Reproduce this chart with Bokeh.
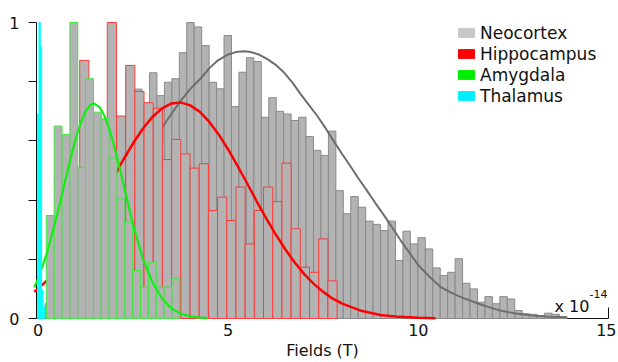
import numpy as np
from bokeh.plotting import figure
from bokeh.models import ColumnDataSource, Range1d, FixedTicker, Legend, LegendItem, Label, Title
from bokeh.embed import file_html
from bokeh.resources import INLINE

# ---------------- data (x in units of 1e-14 T) ----------------
region_names = ["Neocortex", "Hippocampus", "Amygdala", "Thalamus"]

neo_bin_start, neo_bin_width = 0.187, 0.196
neo_counts = [0.05, 0.12, 0.20, 0.26, 0.30, 0.35, 0.40, 0.45, 0.49, 0.52,
              0.58, 0.63, 0.775, 0.70, 0.830, 0.753, 0.798, 0.810, 0.898, 1.0,
              0.985, 0.922, 0.798, 0.776, 0.956, 0.716, 0.832, 0.881, 0.868, 0.680,
              0.746, 0.700, 0.691, 0.669, 0.680, 0.615, 0.568, 0.551, 0.633, 0.432,
              0.354, 0.412, 0.376, 0.329, 0.318, 0.297, 0.329, 0.196, 0.295, 0.252,
              0.273, 0.235, 0.171, 0.145, 0.156, 0.202, 0.119, 0.100, 0.055, 0.074,
              0.050, 0.074, 0.066, 0.027, 0.016, 0.014, 0.010, 0.018, 0.014, 0.007]

hip_bin_start, hip_bin_width = 0.6125, 0.2417
hip_counts = [0.35, 0.45, 0.872, 0.62, 0.55, 1.0, 0.684, 0.855, 0.767, 0.729,
              0.71, 0.537, 0.605, 0.556, 0.508, 0.523, 0.365, 0.41, 0.331, 0.444,
              0.252, 0.365, 0.444, 0.395, 0.525, 0.303, 0.173, 0.156, 0.269, 0.127]

amy_bin_start, amy_bin_width = 0.218, 0.2065
amy_counts = [0.348, 0.650, 0.622, 1.0, 0.511, 0.810, 0.697, 0.675, 0.542, 0.404,
              0.325, 0.162, 0.106, 0.190, 0.106, 0.106, 0.136]

tha_bin_start, tha_bin_width = -0.01, 0.035
tha_counts = [0.69, 1.0, 0.92, 0.095, 0.04]

neo_fit_x = [0.25, 0.75, 1.25, 1.75, 2.25, 2.75, 3.0, 3.27, 3.5, 3.75, 4.0, 4.27, 4.5,
             4.71, 5.0, 5.2, 5.41, 5.6, 5.8, 6.02, 6.25, 6.46, 6.7, 6.9, 7.1, 7.34,
             7.55, 7.77, 8.0, 8.21, 8.43, 8.65, 8.87, 9.09, 9.3, 9.53, 9.75, 10.0,
             10.3, 10.6, 10.9, 11.2, 11.5, 11.72, 11.94, 12.15, 12.38, 12.6, 13.0,
             13.45, 13.9]
neo_fit_y = [0.12, 0.19, 0.27, 0.36, 0.45, 0.54, 0.59, 0.646, 0.69, 0.735, 0.775, 0.81,
             0.845, 0.870, 0.892, 0.900, 0.903, 0.900, 0.892, 0.877, 0.857, 0.832,
             0.795, 0.759, 0.725, 0.685, 0.645, 0.600, 0.555, 0.515, 0.472, 0.432,
             0.39, 0.35, 0.31, 0.265, 0.225, 0.18, 0.14, 0.105, 0.085, 0.068, 0.054,
             0.044, 0.035, 0.027, 0.021, 0.016, 0.010, 0.006, 0.004]

hip_fit_x = [-0.1, 0.0, 0.25, 0.5, 0.75, 1.0, 1.25, 1.5, 1.75, 2.0, 2.25, 2.5, 2.75,
             3.0, 3.25, 3.5, 3.75, 4.0, 4.25, 4.5, 4.75, 5.0, 5.25, 5.5, 5.75, 6.0,
             6.25, 6.5, 6.75, 7.0, 7.25, 7.5, 7.75, 8.0, 8.5, 9.0, 9.5, 10.0, 10.45]
hip_fit_y = [0.090, 0.100, 0.130, 0.165, 0.206, 0.253, 0.305, 0.361, 0.420, 0.480,
             0.538, 0.592, 0.640, 0.680, 0.709, 0.726, 0.730, 0.720, 0.699, 0.665,
             0.622, 0.571, 0.515, 0.456, 0.396, 0.338, 0.284, 0.234, 0.189, 0.150,
             0.117, 0.090, 0.067, 0.050, 0.026, 0.012, 0.0055, 0.0023, 0.001]

amy_fit_x = [-0.1, 0.0, 0.25, 0.5, 0.75, 0.875, 1.0, 1.125, 1.25, 1.375, 1.47, 1.625,
             1.75, 1.875, 2.0, 2.125, 2.25, 2.5, 2.75, 3.0, 3.25, 3.5, 3.75, 4.0,
             4.25, 4.45]
amy_fit_y = [0.105, 0.134, 0.227, 0.349, 0.485, 0.551, 0.612, 0.662, 0.700, 0.722,
             0.727, 0.713, 0.684, 0.640, 0.584, 0.520, 0.452, 0.317, 0.205, 0.125,
             0.070, 0.035, 0.016, 0.007, 0.003, 0.001]

x_tick_values = [0, 5, 10, 15]
y_major_ticks = [0, 1]
y_minor_ticks = [0.2, 0.4, 0.6, 0.8]

# ---------------- styles ----------------
FONT = "DejaVu Sans"
TXT = "#111111"
BAR_FILL = "#b3b3b3"
edge_colors = ["#8a8a8a", "#ff3a3a", "#3ee63e", "#00ffff"]
swatch_colors = ["#c8c8c8", "#ff0000", "#00ee00", "#00eeff"]


def hist_source(start, width, counts):
    n = len(counts)
    left = start + width * np.arange(n)
    return ColumnDataSource(dict(left=left, right=left + width,
                                 top=np.array(counts, dtype=float), bottom=np.zeros(n)))


p = figure(width=616, height=361, x_range=Range1d(-0.04, 15), y_range=Range1d(0, 1),
           output_backend="svg", toolbar_location=None,
           min_border_left=36, min_border_right=8, min_border_top=22, min_border_bottom=43)
p.outline_line_color = None
p.grid.visible = False
p.background_fill_color = "white"
p.border_fill_color = "white"

# x axis
xa = p.xaxis[0]
xa.ticker = FixedTicker(ticks=x_tick_values)
xa.major_tick_in = 11
xa.major_tick_out = 0
xa.minor_tick_in = 0
xa.minor_tick_out = 0
xa.major_label_standoff = 5
xa.major_label_text_font = FONT
xa.major_label_text_font_size = "16px"
xa.major_label_text_color = TXT
xa.axis_line_color = TXT
xa.major_tick_line_color = TXT

# y axis
ya = p.yaxis[0]
ya.ticker = FixedTicker(ticks=y_major_ticks, minor_ticks=y_minor_ticks)
ya.major_tick_in = 0
ya.major_tick_out = 8
ya.minor_tick_in = 0
ya.minor_tick_out = 8
ya.major_label_standoff = 9
ya.major_label_text_font = FONT
ya.major_label_text_font_size = "16px"
ya.major_label_text_color = TXT
ya.axis_line_color = TXT
ya.major_tick_line_color = TXT
ya.minor_tick_line_color = TXT

# data layers, drawn above the axes (axes lie underneath as in the original)
p.quad(left="left", right="right", top="top", bottom="bottom",
       source=hist_source(neo_bin_start, neo_bin_width, neo_counts),
       fill_color=BAR_FILL, line_color=edge_colors[0], line_width=1, level="overlay")
p.line(neo_fit_x, neo_fit_y, line_color="#6e6e6e", line_width=2, level="overlay")

p.quad(left="left", right="right", top="top", bottom="bottom",
       source=hist_source(hip_bin_start, hip_bin_width, hip_counts),
       fill_color=BAR_FILL, line_color=edge_colors[1], line_width=1, level="overlay")
p.line(hip_fit_x, hip_fit_y, line_color="#ff0000", line_width=2.5, level="overlay")

p.quad(left="left", right="right", top="top", bottom="bottom",
       source=hist_source(amy_bin_start, amy_bin_width, amy_counts),
       fill_color=BAR_FILL, line_color=edge_colors[2], line_width=1, level="overlay")
p.line(amy_fit_x, amy_fit_y, line_color="#11ee11", line_width=2.2, level="overlay")

p.quad(left="left", right="right", top="top", bottom="bottom",
       source=hist_source(tha_bin_start, tha_bin_width, tha_counts),
       fill_color="#00ffff", line_color=edge_colors[3], line_width=1, level="overlay")

# legend swatches (renderers without drawable data: they only feed the legend)
items = []
for name, col in zip(region_names, swatch_colors):
    r = p.quad(left=[np.nan], right=[np.nan], top=[np.nan], bottom=[np.nan],
               fill_color=col, line_color=col)
    items.append(LegendItem(label=name, renderers=[r]))

legend = Legend(items=items, location=(420, 212), padding=0, margin=0, spacing=0,
                glyph_width=20, glyph_height=11, label_standoff=4, label_height=21,
                label_text_font=FONT, label_text_font_size="17px",
                label_text_color=TXT,
                background_fill_alpha=0, border_line_color=None)
p.add_layout(legend, "center")

# axis title and exponent
p.add_layout(Title(text="Fields (T)", align="center", offset=-10, standoff=0,
                   text_font=FONT, text_font_size="16px", text_font_style="normal",
                   text_color=TXT), "below")
p.add_layout(Label(x=14.5, y=0.04, text="x 10", text_align="right",
                   text_baseline="alphabetic", text_font=FONT, text_font_size="16px",
                   text_color=TXT))
p.add_layout(Label(x=14.5, y=0.082, text="-14", text_align="left",
                   text_baseline="alphabetic", text_font=FONT, text_font_size="11px",
                   text_color=TXT))

open("out.html", "w").write(file_html(p, INLINE))
